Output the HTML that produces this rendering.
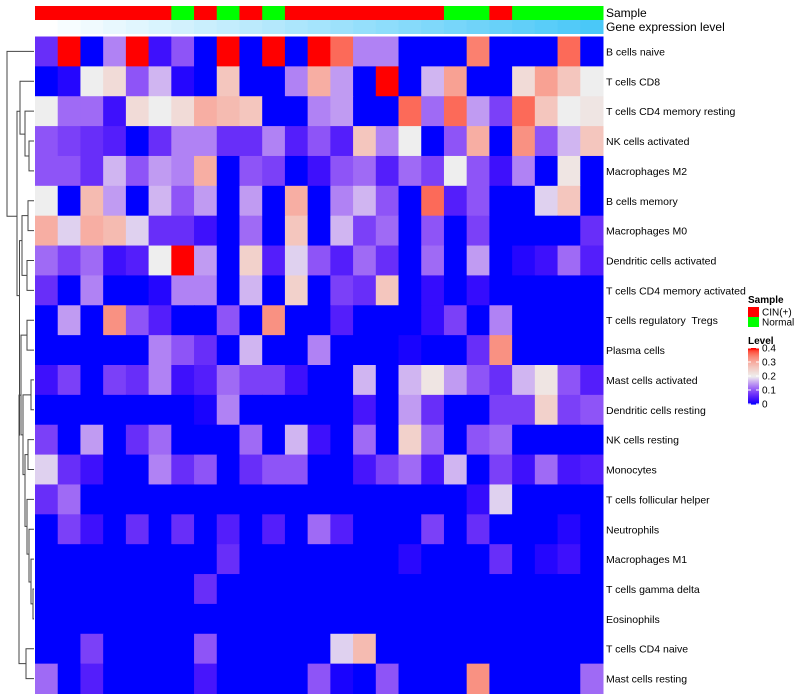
<!DOCTYPE html>
<html><head><meta charset="utf-8"><style>
body{margin:0;background:#fff;font-family:"Liberation Sans",Arial,sans-serif}
svg{display:block}
text{font-family:"Liberation Sans",Arial,sans-serif;white-space:pre}
</style></head><body>
<svg id="c" width="800" height="700" xmlns="http://www.w3.org/2000/svg"></svg>
<script>
const rowLabels=["B cells naive","T cells CD8","T cells CD4 memory resting","NK cells activated","Macrophages M2","B cells memory","Macrophages M0","Dendritic cells activated","T cells CD4 memory activated","T cells regulatory  Tregs","Plasma cells","Mast cells activated","Dendritic cells resting","NK cells resting","Monocytes","T cells follicular helper","Neutrophils","Macrophages M1","T cells gamma delta","Eosinophils","T cells CD4 naive","Mast cells resting"];
const sampleGroups=["C","C","C","C","C","C","N","C","N","C","N","C","C","C","C","C","C","C","N","N","C","N","N","N","N"];
const geneLevels=[0,1,2,3,4,5,6,7,8,9,10,11,12,13,14,15,16,17,18,19,20,21,22,23,24];
const legendTicks=[0,0.1,0.2,0.3,0.4];
// values in units of 1/30 (0..12 -> 0..0.4)
const r0=[2,12,0,4,12,1,3,0,12,0,12,0,12,11,4,4,0,0,0,10.5,0,0,0,11,0];
const r1=[0,0.5,6,7,3,5,0.5,0,8,0,0,4,9,4.5,0,12,0,5,9.5,0,0,7,9.5,8,6];
const r2=[6,3.5,3.5,1,7,6,7,9,8.5,8,0,0,4,4.5,0,0,11,3.5,11,4.5,2.5,11,8,6,6.5];
const r3=[3,2.5,2,1.5,0,2,4,4,2,2,4,1.5,3,1.5,8,4,6,0,3,9,0,10,3,5,8];
const r4=[3,3,2,5,3,4.5,4,9,0,3,2.5,0,1,3,3.5,1.5,3.5,2.5,6,3,1,4,0,6.5,0];
const r5=[6,0,8.5,4.5,0,5,3,4.5,0,4.5,0,9,0,4,5,3,0,11,1.5,3,0,0,5.5,8,0];
const r6=[9,5.5,9,8.5,5.5,2,2,1,0,3.5,0,8,0,5,2.5,3.5,0,3,0,2.5,0,0,0,0,2];
const r7=[3.5,2.5,3.5,1,1.5,6,12,4.5,0,7.5,1.5,5.5,3,1.5,3.5,2,0,3.5,0,4.5,0,0.5,1,3.5,1.5];
const r8=[2,0,4,0,0,0.5,4,4,0,5,0,7.5,0,2.5,2,8,0,0.8,0,0.8,0,0,0,0,0];
const r9=[0,4.5,0,10,3,1.5,0,0,3,0,10,0,0,1.5,0,0,0,0.8,2.5,0,4,0,0,0,0];
const r10=[0,0,0,0,0,4,3,2,0,5,0,0,4,0,0,0,0.3,0,0,2,10,0,0,0,0];
const r11=[1,2.5,0,2.5,2,4,1,1.5,3.5,2.5,2.5,1,0,0,5,0,5,6.5,4.5,3,2,5,6.5,3,1.5];
const r12=[0,0,0,0,0,0,0,0.3,4,0,0,0,0,0,1.2,0,4.5,2,0,0,2.5,2.5,7.5,2.5,3];
const r13=[2.5,0,4.5,0,2,3.5,0,0,0,3.5,0,5,1,0,3.5,0,7.5,3.5,0,3,3.5,0,0,0,0];
const r14=[5.5,2,1,0,0,4,2,3,0,2,3,3,0,0,1.2,2.5,3.5,1.2,5,0,2.5,1,3.5,1.2,1.5];
const r15=[2,3.5,0,0,0,0,0,0,0,0,0,0,0,0,0,0,0,0,0,0.8,5.5,0,0,0,0];
const r16=[0,2.5,1,0,2,0,2,0,1.5,0,1.5,0,3.5,1.5,0,0,0,2.5,0,2,0,0,0,0.5,0];
const r17=[0,0,0,0,0,0,0,0,2,0,0,0,0,0,0,0,0.6,0,0,0,2,0,0.5,1,0];
const r18=[0,0,0,0,0,0,0,2,0,0,0,0,0,0,0,0,0,0,0,0,0,0,0,0,0];
const r19=[0,0,0,0,0,0,0,0,0,0,0,0,0,0,0,0,0,0,0,0,0,0,0,0,0];
const r20=[0,0,2.5,0,0,0,0,3,0,0,0,0,0,5.5,8.5,0,0,0,0,0,0,0,0,0,0];
const r21=[3.5,0,1.5,0,0,0,0,1.2,0,0,0,0,3,0.3,0,3,0,0,0,10,0,0,0,0,3.5];
const matrix=[r0,r1,r2,r3,r4,r5,r6,r7,r8,r9,r10,r11,r12,r13,r14,r15,r16,r17,r18,r19,r20,r21];

const NS="http://www.w3.org/2000/svg";
const svg=document.getElementById('c');
function mk(t,a,p){const e=document.createElementNS(NS,t);for(const k in a)e.setAttribute(k,a[k]);(p||svg).appendChild(e);return e;}
const X0=35,X1=603,Y0=36.5,Y1=693.5;
const nC=25,nR=22;
const cw=(X1-X0)/nC,rh=(Y1-Y0)/nR;
const xPos=i=>X0+i*cw, yPos=j=>Y0+j*rh;
function col(v){ // v in 0..0.4
  let t=Math.max(0,Math.min(1,v/0.4));
  if(t<=0.5){const s=t/0.5;
    const r=Math.round(238*Math.pow(s,0.75)),g=Math.round(238*Math.pow(s,1.5)),b=Math.round(255-17*s);
    return `rgb(${r},${g},${b})`;}
  const s=(t-0.5)/0.5;
  const g=Math.round(238*Math.pow(1-s,0.45)),b=Math.round(238*Math.pow(1-s,0.55));
  return `rgb(${Math.round(238+17*s)},${g},${b})`;
}
sampleGroups.forEach((g,i)=>{
  const e=mk('rect',{x:xPos(i),y:6,width:cw+0.5,height:14,fill:g==="C"?"#ff0000":"#00ff00"});
  
  
});
const gMax=Math.max(...geneLevels);
geneLevels.forEach((v,i)=>{
  const t=v/gMax;
  const r=Math.round(255-(255-74)*t),g=Math.round(255-(255-200)*t),b=Math.round(255-(255-248)*t);
  const e=mk('rect',{x:xPos(i),y:20,width:cw+0.5,height:14,fill:`rgb(${r},${g},${b})`});
  
  
});
let t1=mk('text',{x:606,y:17,'font-size':12,fill:'#000'});t1.textContent='Sample';

let t2=mk('text',{x:606,y:31,'font-size':12,fill:'#000'});t2.textContent='Gene expression level';

matrix.forEach((row,j)=>{
  row.forEach((c,i)=>{
    const v=c/30;
    const e=mk('rect',{x:xPos(i),y:yPos(j),width:cw+0.5,height:rh+0.5,fill:col(v)});
    
    
  });
  const l=mk('text',{x:606,y:yPos(j)+rh/2+4,'font-size':10.5,fill:'#000'});
  l.textContent=rowLabels[j];
  
  
});
const yc=j=>yPos(j)+rh/2;
function link(x,ya,yb,xa,xb){
  mk('path',{d:`M${xa},${ya}H${x}V${yb}H${xb}`,fill:'none',stroke:'#444','stroke-width':1});
}
const dg=mk('g',{});


const L=X0-1;
link(29,yc(3),yc(4),L,L);
link(25,yc(2),(yc(3)+yc(4))/2,L,29);
link(20,yc(1),(yc(2)+yc(3))/2+8,L,25);
link(28,yc(5),yc(6),L,L);
link(27,yc(7),yc(8),L,L);
link(22,(yc(5)+yc(6))/2,(yc(7)+yc(8))/2,28,27);
link(27,yc(9),yc(10),L,L);
link(31,yc(11),yc(12),L,L);
link(28,yc(13),yc(14),L,L);
link(33,yc(18),yc(19),L,L);
link(31,yc(17),(yc(18)+yc(19))/2,L,33);
link(29,yc(16),(yc(17)+yc(18))/2+8,L,31);
link(27,yc(15),(yc(16)+yc(17))/2+10,L,29);
link(25,(yc(13)+yc(14))/2,(yc(15)+yc(16))/2+12,28,27);
link(23,(yc(11)+yc(12))/2,(yc(13)+yc(14))/2+20,31,25);
link(21,(yc(9)+yc(10))/2,(yc(11)+yc(12))/2+40,27,23);
link(26,yc(20),yc(21),L,L);
link(19,(yc(9)+yc(10))/2+60,(yc(20)+yc(21))/2,21,26);
link(19.5,(yc(5)+yc(6))/2+25,(yc(9)+yc(10))/2+100,22,19);
link(17,(yc(1)+yc(2))/2+15,(yc(5)+yc(6))/2+80,20,19.5);
link(7,yc(0),(yc(1)+yc(2))/2+120,L,17);
let lt=mk('text',{x:748,y:303,'font-size':10,'font-weight':'bold'});lt.textContent='Sample';

[["#ff0000","CIN(+)"],["#00ff00","Normal"]].forEach((d,k)=>{
  const r=mk('rect',{x:748,y:307+k*10,width:11,height:10,fill:d[0]});
  
  const t=mk('text',{x:762,y:315.5+k*10,'font-size':10});t.textContent=d[1];
  
});
let lv=mk('text',{x:748,y:344,'font-size':10,'font-weight':'bold'});lv.textContent='Level';

const LB0=404,LB1=348;
for(let k=0;k<56;k++){
  const v=0.4*(k/55);
  mk('rect',{x:748,y:LB0-(k+1)*(LB0-LB1)/56,width:11,height:(LB0-LB1)/56+0.6,fill:col(v)});
}
legendTicks.forEach(v=>{
  const y=LB0-(v/0.4)*(LB0-LB1);
  mk('line',{x1:748,x2:751,y1:y,y2:y,stroke:'#fff'});
  mk('line',{x1:756,x2:759,y1:y,y2:y,stroke:'#fff'});
  const t=mk('text',{x:762,y:y+3.5,'font-size':10});t.textContent=String(v);
  
});
</script>
</body></html>
